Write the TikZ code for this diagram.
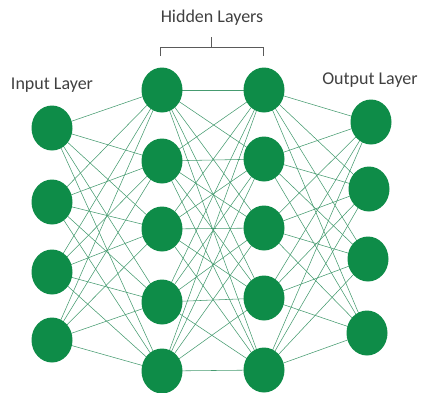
\documentclass[tikz,border=0pt]{standalone}
\usepackage{fontspec}
\setmainfont{Carlito}
\usetikzlibrary{shapes.geometric}
\definecolor{nodegreen}{RGB}{14,140,72}
\definecolor{edgegreen}{RGB}{70,155,112}
\definecolor{brackgray}{RGB}{90,90,90}
\begin{document}
\begin{tikzpicture}[x=1pt,y=-1pt,
  neuron/.style={ellipse,fill=nodegreen,minimum width=41pt,minimum height=45pt,inner sep=0pt},
  edge/.style={draw=edgegreen,line width=0.55pt},
  lab/.style={font=\fontsize{18}{20}\selectfont,text=black!75,inner sep=0pt}]
\useasboundingbox (0,0) rectangle (421,392);
% input
\foreach \i/\y in {1/128,2/202,3/272,4/340}
  \coordinate (I\i) at (52,\y);
% hidden 1
\foreach \i/\y in {1/90,2/161,3/229,4/302,5/371}
  \coordinate (A\i) at (162,\y);
% hidden 2
\foreach \i/\y in {1/90,2/159,3/228,4/298,5/370}
  \coordinate (B\i) at (264,\y);
% output
\foreach \i/\x/\y in {1/371/122,2/369/189,3/368/259,4/367/333}
  \coordinate (O\i) at (\x,\y);
% edges
\foreach \i in {1,...,4} \foreach \j in {1,...,5} \draw[edge] (I\i) -- (A\j);
\foreach \i in {1,...,5} \foreach \j in {1,...,5} \draw[edge] (A\i) -- (B\j);
\foreach \i in {1,...,5} \foreach \j in {1,...,4} \draw[edge] (B\i) -- (O\j);
% nodes
\foreach \i in {1,...,4} \node[neuron] (nI\i) at (I\i) {};
\foreach \i in {1,...,5} \node[neuron] (nA\i) at (A\i) {};
\foreach \i in {1,...,5} \node[neuron] (nB\i) at (B\i) {};
\foreach \i in {1,...,4} \node[neuron] (nO\i) at (O\i) {};
% labels
\node[lab] (hid) at (212,18) {Hidden Layers};
\node[lab] (inp) at (52,85) {Input Layer};
\node[lab] (out) at (370,80) {Output Layer};
% bracket
\coordinate (bl) at (160,56);
\coordinate (br) at (263,56);
\coordinate (bm) at (211,47);
\coordinate (bt) at (211,37);
\draw[brackgray,line width=0.9pt] (bl) -- (160,47) -- (263,47) -- (br);
\draw[brackgray,line width=0.9pt] (bm) -- (bt);
\end{tikzpicture}
\end{document}
